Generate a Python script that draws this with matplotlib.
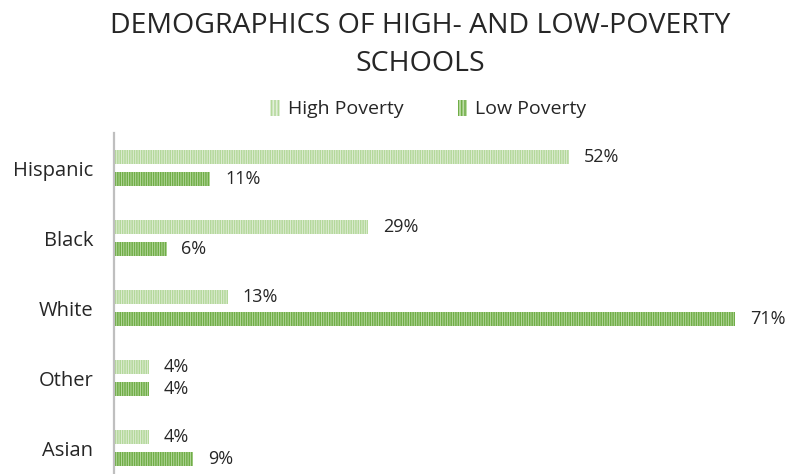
import matplotlib.pyplot as plt
from matplotlib.patches import Patch
import numpy as np

# ===== DADOS =====
categorias = ["Hispanic", "Black", "White", "Other", "Asian"]
high_poverty = [52, 29, 13, 4, 4]
low_poverty = [11, 6, 71, 4, 9]
series = ["High Poverty", "Low Poverty"]

# ===== ESTILO =====
FONTE = "Open Sans"
COR_TEXTO = "#262626"
COR_HIGH_FUNDO = "#e2efda"
COR_HIGH_LINHA = "#b4d89b"
COR_LOW_FUNDO = "#bcdca6"
COR_LOW_LINHA = "#70ad47"
HATCH = "|" * 7

plt.rcParams["font.family"] = FONTE
plt.rcParams["hatch.linewidth"] = 1.1

fig = plt.figure(figsize=(7.93, 4.74), dpi=100)
ax = fig.add_axes([114 / 793, 0, 665 / 793, 1 - 133 / 474])

y = np.arange(len(categorias))
alt = 0.2
desl = 0.157

b1 = ax.barh(y - desl, high_poverty, height=alt, color=COR_HIGH_FUNDO,
             edgecolor=COR_HIGH_LINHA, hatch=HATCH, linewidth=0)
b2 = ax.barh(y + desl, low_poverty, height=alt, color=COR_LOW_FUNDO,
             edgecolor=COR_LOW_LINHA, hatch=HATCH, linewidth=0)

# rotulos de valor
for barras in (b1, b2):
    for b in barras:
        w = b.get_width()
        ax.annotate(f"{w:g}%", (w, b.get_y() + b.get_height() / 2),
                    xytext=(15, 0), textcoords="offset pixels",
                    va="center", ha="left", fontsize=13, color=COR_TEXTO)

ax.set_xlim(0, 76)
ax.set_ylim(4.37, -0.5)
ax.set_yticks(y)
ax.set_yticklabels(categorias, fontsize=14.5, color=COR_TEXTO)
ax.tick_params(axis="y", length=0, pad=15)
ax.set_xticks([])
for lado in ("top", "right", "bottom"):
    ax.spines[lado].set_visible(False)
ax.spines["left"].set_color("#bfbfbf")
ax.spines["left"].set_linewidth(1.6)

# ===== TITULO =====
fig.text(0.53, 1 - 26 / 474, "DEMOGRAPHICS OF HIGH- AND LOW-POVERTY", ha="center",
         va="center", fontsize=20.5, color=COR_TEXTO)
fig.text(0.53, 1 - 64 / 474, "SCHOOLS", ha="center", va="center",
         fontsize=20.5, color=COR_TEXTO)

# ===== LEGENDA =====
handles = [
    Patch(facecolor=COR_HIGH_FUNDO, edgecolor=COR_HIGH_LINHA, hatch="|" * 5, linewidth=0),
    Patch(facecolor=COR_LOW_FUNDO, edgecolor=COR_LOW_LINHA, hatch="|" * 5, linewidth=0),
]
fig.legend(handles, series, loc="center", bbox_to_anchor=(0.54, 1 - 109 / 474),
           ncol=2, frameon=False, fontsize=14, handlelength=0.5, handleheight=0.9,
           handletextpad=0.4, columnspacing=2.8, labelcolor=COR_TEXTO)

fig.savefig("out.png", dpi=100)
